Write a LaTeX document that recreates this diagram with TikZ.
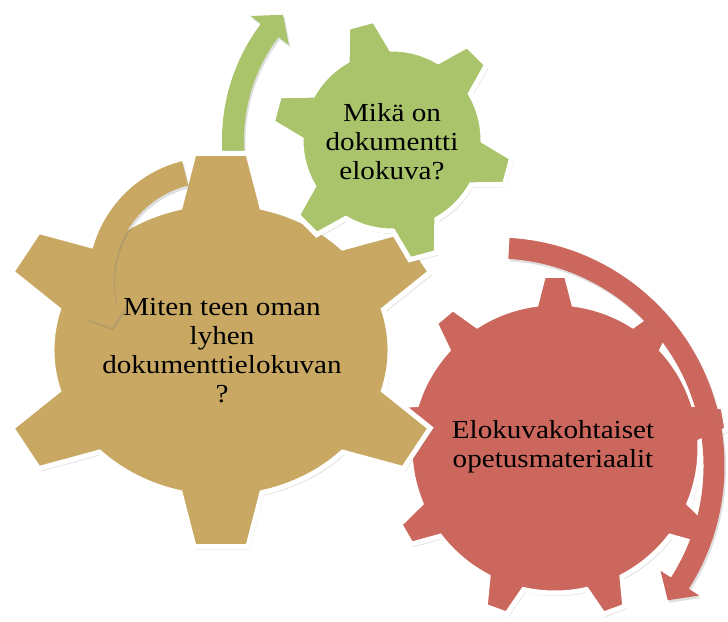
\documentclass[tikz,border=0pt]{standalone}
\usepackage{fontspec}
\setmainfont{Liberation Serif}[FakeStretch=1.12]
\usetikzlibrary{shadows}
\definecolor{goldc}{RGB}{200,168,98}
\definecolor{greenc}{RGB}{169,196,107}
\definecolor{redc}{RGB}{203,103,93}
\tikzset{
  gearstyle/.style={fill=#1, draw=white, line width=5pt, line join=miter,
    drop shadow={opacity=0.22, shadow xshift=2pt, shadow yshift=-3pt}},
  arrowstyle/.style={fill=#1, draw=none,
    drop shadow={opacity=0.25, shadow xshift=1.5pt, shadow yshift=-2.5pt}},
  geartext/.style={align=center, font=\fontsize{26}{29}\selectfont, text=black, inner sep=0pt}
}
% #1 centre, #2 xscale, #3 teeth, #4 first tooth angle, #5 tip radius, #6 root radius,
% #7 tip half angle, #8 root half angle, #9 colour
\newcommand\drawgear[9]{%
  \begin{scope}[shift={#1}, x=1pt, y=1pt, xscale=#2]
    \pgfmathsetmacro\stepang{360/#3}
    \path[gearstyle=#9] ({#4-#8}:#6)
      \foreach \k in {1,...,#3}{
        -- ({#4+\stepang*(\k-1)-#7}:#5) -- ({#4+\stepang*(\k-1)+#7}:#5)
        -- ({#4+\stepang*(\k-1)+#8}:#6)
        arc[start angle={#4+\stepang*(\k-1)+#8}, end angle={#4+\stepang*\k-#8}, radius=#6]
      } -- cycle;
  \end{scope}}
% #1 centre, #2 radius, #3 shaft width, #4 start angle, #5 head base angle,
% #6 tip angle, #7 head half width, #8 colour
\newcommand\drawarc[8]{%
  \begin{scope}[shift={#1}, x=1pt, y=1pt]
    \path[arrowstyle=#8] ({#4}:{#2+#3/2}) arc[start angle=#4, end angle=#5, radius={#2+#3/2}]
      -- ({#5}:{#2+#7}) -- ({#6}:{#2}) -- ({#5}:{#2-#7}) -- ({#5}:{#2-#3/2})
      arc[start angle=#5, end angle=#4, radius={#2-#3/2}] -- cycle;
  \end{scope}}
\begin{document}
\begin{tikzpicture}[x=1pt, y=-1pt]
  \useasboundingbox (0,0) rectangle (728,621);
  % green arrow (behind the gold gear)
  \drawarc{(415,140)}{182}{22}{184}{143}{136.5}{24}{greenc}
  % red gear
  \drawgear{(555,448)}{1}{9}{90}{173}{145}{3.8}{7.5}{redc}
  % gold gear
  \drawgear{(221,350)}{1.15}{6}{90}{198}{147}{6.8}{14}{goldc}
  % green gear
  \drawgear{(392,140)}{1}{6}{105}{121}{91}{6.5}{14.5}{greenc}
  % gold arrow
  \drawarc{(212,281)}{111}{25}{104}{196}{205}{22}{goldc}
  % red arrow
  \drawarc{(496,466)}{218}{21}{86.6}{-32.5}{-38}{23}{redc}
  % texts
  \node[geartext] (tgold) at (222,351) {Miten teen oman\\lyhen\\dokumenttielokuvan\\?};
  \node[geartext] (tgreen) at (392,142) {Mikä on\\dokumentti\\elokuva?};
  \node[geartext] (tred) at (553,447) {Elokuvakohtaiset\\opetusmateriaalit};
\end{tikzpicture}
\end{document}
